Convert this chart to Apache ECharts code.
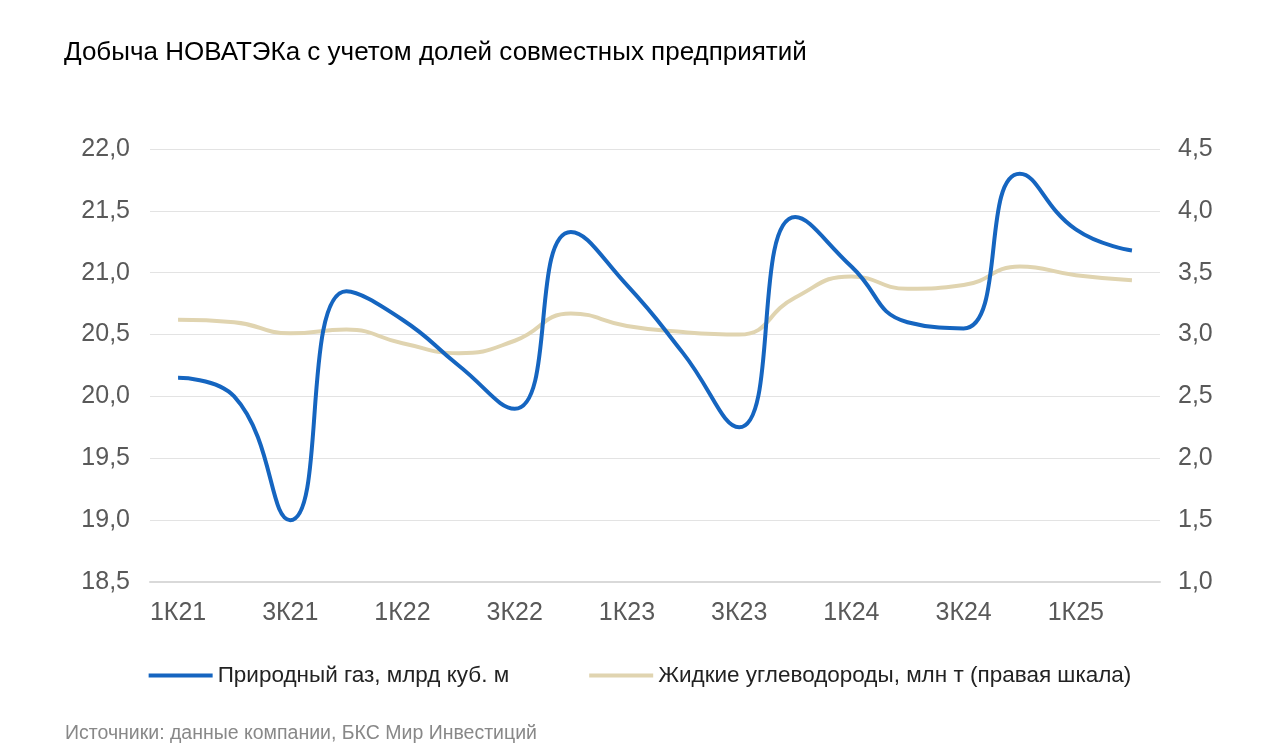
<!DOCTYPE html><html><head><meta charset="utf-8"><script src="https://cdn.jsdelivr.net/npm/echarts@6/dist/echarts.min.js"></script>
<style>body{margin:0;background:#fff}#c{width:1280px;height:754px}</style></head><body><div id="c"></div><script>
const categories=['1К21','2К21','3К21','4К21','1К22','2К22','3К22','4К22','1К23','2К23','3К23','4К23','1К24','2К24','3К24','4К24','1К25','2К25'];
const gas=[20.15,20.0,19.0,20.85,20.62,20.25,19.9,21.33,20.9,20.35,19.75,21.45,21.05,20.6,20.55,21.8,21.35,21.18];
const liquids=[3.12,3.1,3.01,3.04,2.93,2.85,2.95,3.17,3.07,3.02,3.0,3.3,3.47,3.37,3.4,3.55,3.48,3.44];
const f='Liberation Sans, Arial, sans-serif';
const fmt=v=>v.toFixed(1).replace('.',',');
const c=echarts.init(document.getElementById('c'));
c.setOption({
title:[{text:'Добыча НОВАТЭКа с учетом долей совместных предприятий',left:59,top:35,textStyle:{fontFamily:f,fontSize:26,fontWeight:'normal',color:'#000'}},
{text:'Источники: данные компании, БКС Мир Инвестиций',left:60,top:719,textStyle:{fontFamily:f,fontSize:19.5,fontWeight:'normal',color:'#888'}}],
legend:{bottom:62,left:'center',itemGap:80,itemWidth:64,itemHeight:4,icon:'rect',textStyle:{fontFamily:f,fontSize:22.5,color:'#222'},data:['Природный газ, млрд куб. м','Жидкие углеводороды, млн т (правая шкала)']},
grid:{left:150,right:120,top:149,bottom:172},
xAxis:{type:'category',data:categories,axisTick:{show:false},axisLine:{lineStyle:{color:'#d9d9d9',width:2}},
axisLabel:{fontFamily:f,fontSize:25,color:'#595959',margin:19,interval:1}},
yAxis:[{type:'value',min:18.5,max:22,interval:0.5,axisLabel:{fontFamily:f,fontSize:25,color:'#595959',formatter:fmt,margin:20},splitLine:{lineStyle:{color:'#e3e3e3'}}},
{type:'value',min:1,max:4.5,interval:0.5,axisLabel:{fontFamily:f,fontSize:25,color:'#595959',formatter:fmt,margin:18},splitLine:{show:false}}],
series:[{name:'Природный газ, млрд куб. м',type:'line',data:gas,smooth:0.5,symbol:'none',lineStyle:{color:'#1565C0',width:4},itemStyle:{color:'#1565C0'},z:3},
{name:'Жидкие углеводороды, млн т (правая шкала)',type:'line',yAxisIndex:1,data:liquids,smooth:0.5,symbol:'none',lineStyle:{color:'#E0D4B0',width:4},itemStyle:{color:'#E0D4B0'},z:2}]
});
</script></body></html>
